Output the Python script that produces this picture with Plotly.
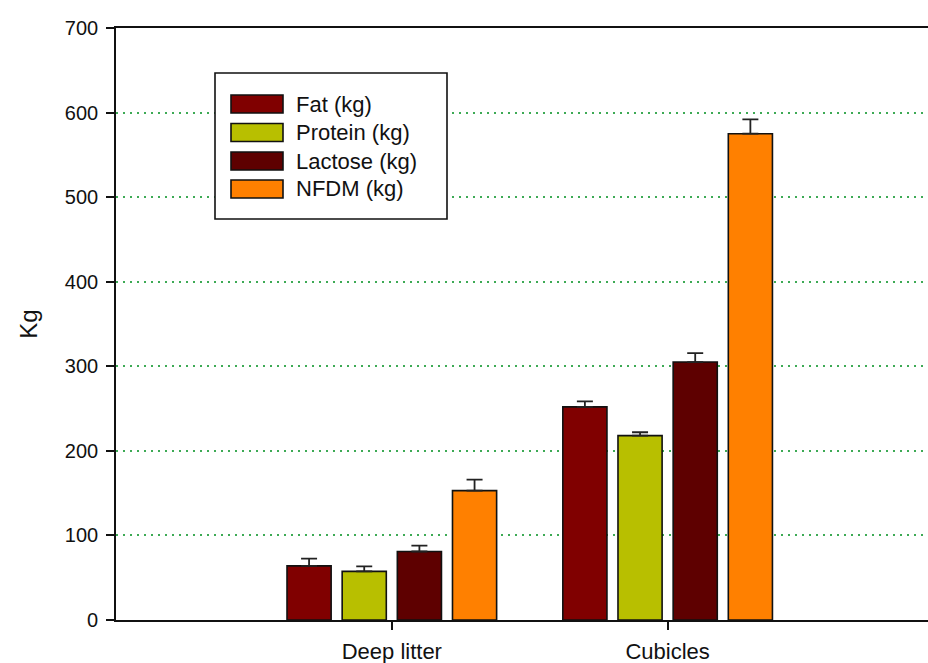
import plotly.graph_objects as go

# Housing systems on the x axis
housing = ["Deep litter", "Cubicles"]

# Component yields (kg) and their standard errors
fat_kg = [64, 252]
fat_se = [8.5, 6.5]
protein_kg = [57.5, 218]
protein_se = [6, 4]
lactose_kg = [81, 305]
lactose_se = [7, 10.5]
nfdm_kg = [153, 575]
nfdm_se = [13, 17]

series_names = ["Fat (kg)", "Protein (kg)", "Lactose (kg)", "NFDM (kg)"]
series_vals = [fat_kg, protein_kg, lactose_kg, nfdm_kg]
series_err = [fat_se, protein_se, lactose_se, nfdm_se]
series_colors = ["#800000", "#B8BF00", "#5E0000", "#FF8000"]

y_ticks = [0, 100, 200, 300, 400, 500, 600, 700]

W, H = 928, 663
ML, MR, MT, MB = 116, 0, 28, 43
FONT = "Liberation Sans, Arial, sans-serif"

fig = go.Figure()
for name, vals, err, col in zip(series_names, series_vals, series_err, series_colors):
    fig.add_trace(go.Bar(
        x=housing, y=vals, name=name,
        marker=dict(color=col, line=dict(color="#111111", width=1.6)),
        error_y=dict(type="data", array=err, arrayminus=[0] * len(err),
                     symmetric=False, color="#222222", thickness=1.8, width=8),
        showlegend=False,
    ))

# Boxed legend with wide swatches, placed in pixel-derived paper coordinates
def px_x(px):
    return (px - ML) / (W - ML - MR)

def px_y(py):
    return (H - MB - py) / (H - MT - MB)

shapes = [dict(type="rect", xref="paper", yref="paper",
               x0=px_x(215), x1=px_x(447), y0=px_y(219), y1=px_y(73),
               line=dict(color="#111111", width=1.6), fillcolor="white", layer="above")]
annotations = []
row_centers = [104, 132.5, 161, 189]
for name, col, cy in zip(series_names, series_colors, row_centers):
    shapes.append(dict(type="rect", xref="paper", yref="paper",
                       x0=px_x(231), x1=px_x(283), y0=px_y(cy + 9), y1=px_y(cy - 9),
                       line=dict(color="#111111", width=1.6), fillcolor=col, layer="above"))
    annotations.append(dict(xref="paper", yref="paper", x=px_x(294), y=px_y(cy),
                            text=name, showarrow=False, xanchor="left", yanchor="middle",
                            font=dict(family=FONT, size=22, color="#111111")))

fig.update_layout(
    width=W, height=H,
    margin=dict(l=ML, r=MR, t=MT, b=MB),
    paper_bgcolor="white", plot_bgcolor="white",
    barmode="group", bargap=0.2, bargroupgap=0.2,
    font=dict(family=FONT, size=20, color="#111111"),
    shapes=shapes, annotations=annotations,
)
fig.update_xaxes(
    type="category", range=[-1, 1.944],
    showline=True, linecolor="#111111", linewidth=1.6, mirror=True,
    ticks="outside", ticklen=8, tickcolor="#111111", tickwidth=1.6,
    tickfont=dict(family=FONT, size=22, color="#111111"), ticklabelstandoff=3,
    showgrid=False, zeroline=False,
)
fig.update_yaxes(
    range=[0, 700], tickvals=y_ticks,
    showline=True, linecolor="#111111", linewidth=1.6,
    ticks="outside", ticklen=8, tickcolor="#111111", tickwidth=1.6,
    tickfont=dict(family=FONT, size=20, color="#111111"), ticklabelstandoff=4,
    showgrid=True, gridcolor="#3DAA55", gridwidth=1.6, griddash="2px,5px",
    zeroline=False,
    title=dict(text="Kg", font=dict(family=FONT, size=24, color="#111111"), standoff=20),
)

fig.write_html("out.html")
